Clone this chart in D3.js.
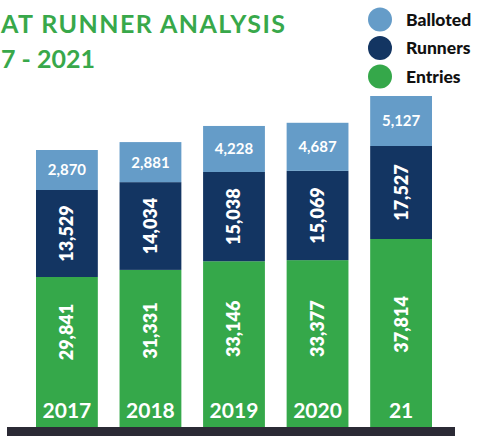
<!DOCTYPE html>
<html>
<head>
<meta charset="utf-8">
<script src="https://cdn.jsdelivr.net/npm/d3@7"></script>
<style>
  html, body { margin: 0; padding: 0; background: #fff; }
  svg { display: block; }
</style>
</head>
<body>
<div id="container"><svg></svg></div>
<script>
let width = 481;
let height = 437;

// data
let years = ["2017", "2018", "2019", "2020", "21"];
let entries = [29841, 31331, 33146, 33377, 37814];
let runners = [13529, 14034, 15038, 15069, 17527];
let balloted = [2870, 2881, 4228, 4687, 5127];
let legendNames = ["Balloted", "Runners", "Entries"];

let colors = {Balloted: "#659cc8", Runners: "#133562", Entries: "#35a84a"};
let font = "Lato, 'Open Sans', sans-serif";
let fmt = d3.format(",");

function draw_chart() {
    let svg = d3.select('#container').select('svg')
        .attr('width', width)
        .attr('height', height);

    let baseY = 427;

    let x = d3.scaleBand()
        .domain(years)
        .range([36, 432])
        .paddingInner(0.26)
        .paddingOuter(0);

    // each block is drawn on its own scale (the original is not to one scale)
    let hEntries = d3.scaleLinear().domain(d3.extent(entries)).range([150, 188]);
    let hRunners = d3.scaleLinear().domain(d3.extent(runners)).range([87, 93]);
    let hBalloted = d3.scaleLinear().domain(d3.extent(balloted)).range([40, 50]);

    let rows = years.map((y, i) => {
        let he = hEntries(entries[i]);
        let hr = hRunners(runners[i]);
        let hb = hBalloted(balloted[i]);
        return {
            year: y,
            segs: [
                {key: "Entries", value: entries[i], y0: baseY - he, h: he},
                {key: "Runners", value: runners[i], y0: baseY - he - hr, h: hr},
                {key: "Balloted", value: balloted[i], y0: baseY - he - hr - hb, h: hb}
            ]
        };
    });

    let bar = svg.append("g")
        .selectAll("g")
        .data(rows)
        .join("g")
        .attr("transform", d => `translate(${x(d.year)},0)`);

    bar.selectAll("rect")
        .data(d => d.segs)
        .join("rect")
        .attr("x", 0)
        .attr("y", d => d.y0)
        .attr("width", x.bandwidth())
        .attr("height", d => d.h)
        .attr("fill", d => colors[d.key]);

    // balloted labels, horizontal
    bar.append("text")
        .attr("x", x.bandwidth() / 2)
        .attr("y", d => d.segs[2].y0 + d.segs[2].h / 2)
        .attr("dy", "0.36em")
        .attr("text-anchor", "middle")
        .attr("font-family", font)
        .attr("font-weight", 700)
        .attr("font-size", 15)
        .attr("fill", "#fff")
        .text(d => fmt(d.segs[2].value));

    // runners labels, rotated
    bar.append("text")
        .attr("transform", d => `translate(${x.bandwidth() / 2},${d.segs[1].y0 + d.segs[1].h / 2}) rotate(-90)`)
        .attr("dy", "0.36em")
        .attr("text-anchor", "middle")
        .attr("font-family", font)
        .attr("font-weight", 800)
        .attr("font-size", 18)
        .attr("fill", "#fff")
        .text(d => fmt(d.segs[1].value));

    // entries labels, rotated, sitting above the year
    bar.append("text")
        .attr("transform", d => `translate(${x.bandwidth() / 2},${baseY - 95 - 0.2 * (d.segs[0].h - 150)}) rotate(-90)`)
        .attr("dy", "0.36em")
        .attr("text-anchor", "middle")
        .attr("font-family", font)
        .attr("font-weight", 800)
        .attr("font-size", 18)
        .attr("fill", "#fff")
        .text(d => fmt(d.segs[0].value));

    // year labels
    bar.append("text")
        .attr("x", x.bandwidth() / 2)
        .attr("y", baseY - 9)
        .attr("text-anchor", "middle")
        .attr("font-family", font)
        .attr("font-weight", 700)
        .attr("font-size", 21)
        .attr("fill", "#fff")
        .text(d => d.year);

    // base line
    svg.append("rect")
        .attr("x", 7)
        .attr("y", baseY)
        .attr("width", 448)
        .attr("height", 9)
        .attr("fill", "#2b2a35");

    // title (as cropped in the original)
    let title = svg.append("g")
        .attr("font-family", font)
        .attr("font-weight", 700)
        .attr("font-size", 25)
        .attr("fill", "#38a84a");
    title.append("text").attr("x", 1).attr("y", 33)
        .attr("textLength", 284)
        .attr("lengthAdjust", "spacing")
        .text("AT RUNNER ANALYSIS");
    title.append("text").attr("x", 1).attr("y", 68).text("7 - 2021");

    // legend
    let legend = svg.append("g")
        .selectAll("g")
        .data(legendNames)
        .join("g")
        .attr("transform", (d, i) => `translate(380,${19.5 + i * 28.5})`);
    legend.append("circle")
        .attr("r", 12)
        .attr("fill", d => colors[d]);
    legend.append("text")
        .attr("x", 26)
        .attr("dy", "0.36em")
        .attr("font-family", font)
        .attr("font-weight", 900)
        .attr("font-size", 17.5)
        .attr("fill", "#111")
        .text(d => d);
}

draw_chart();
</script>
</body>
</html>
